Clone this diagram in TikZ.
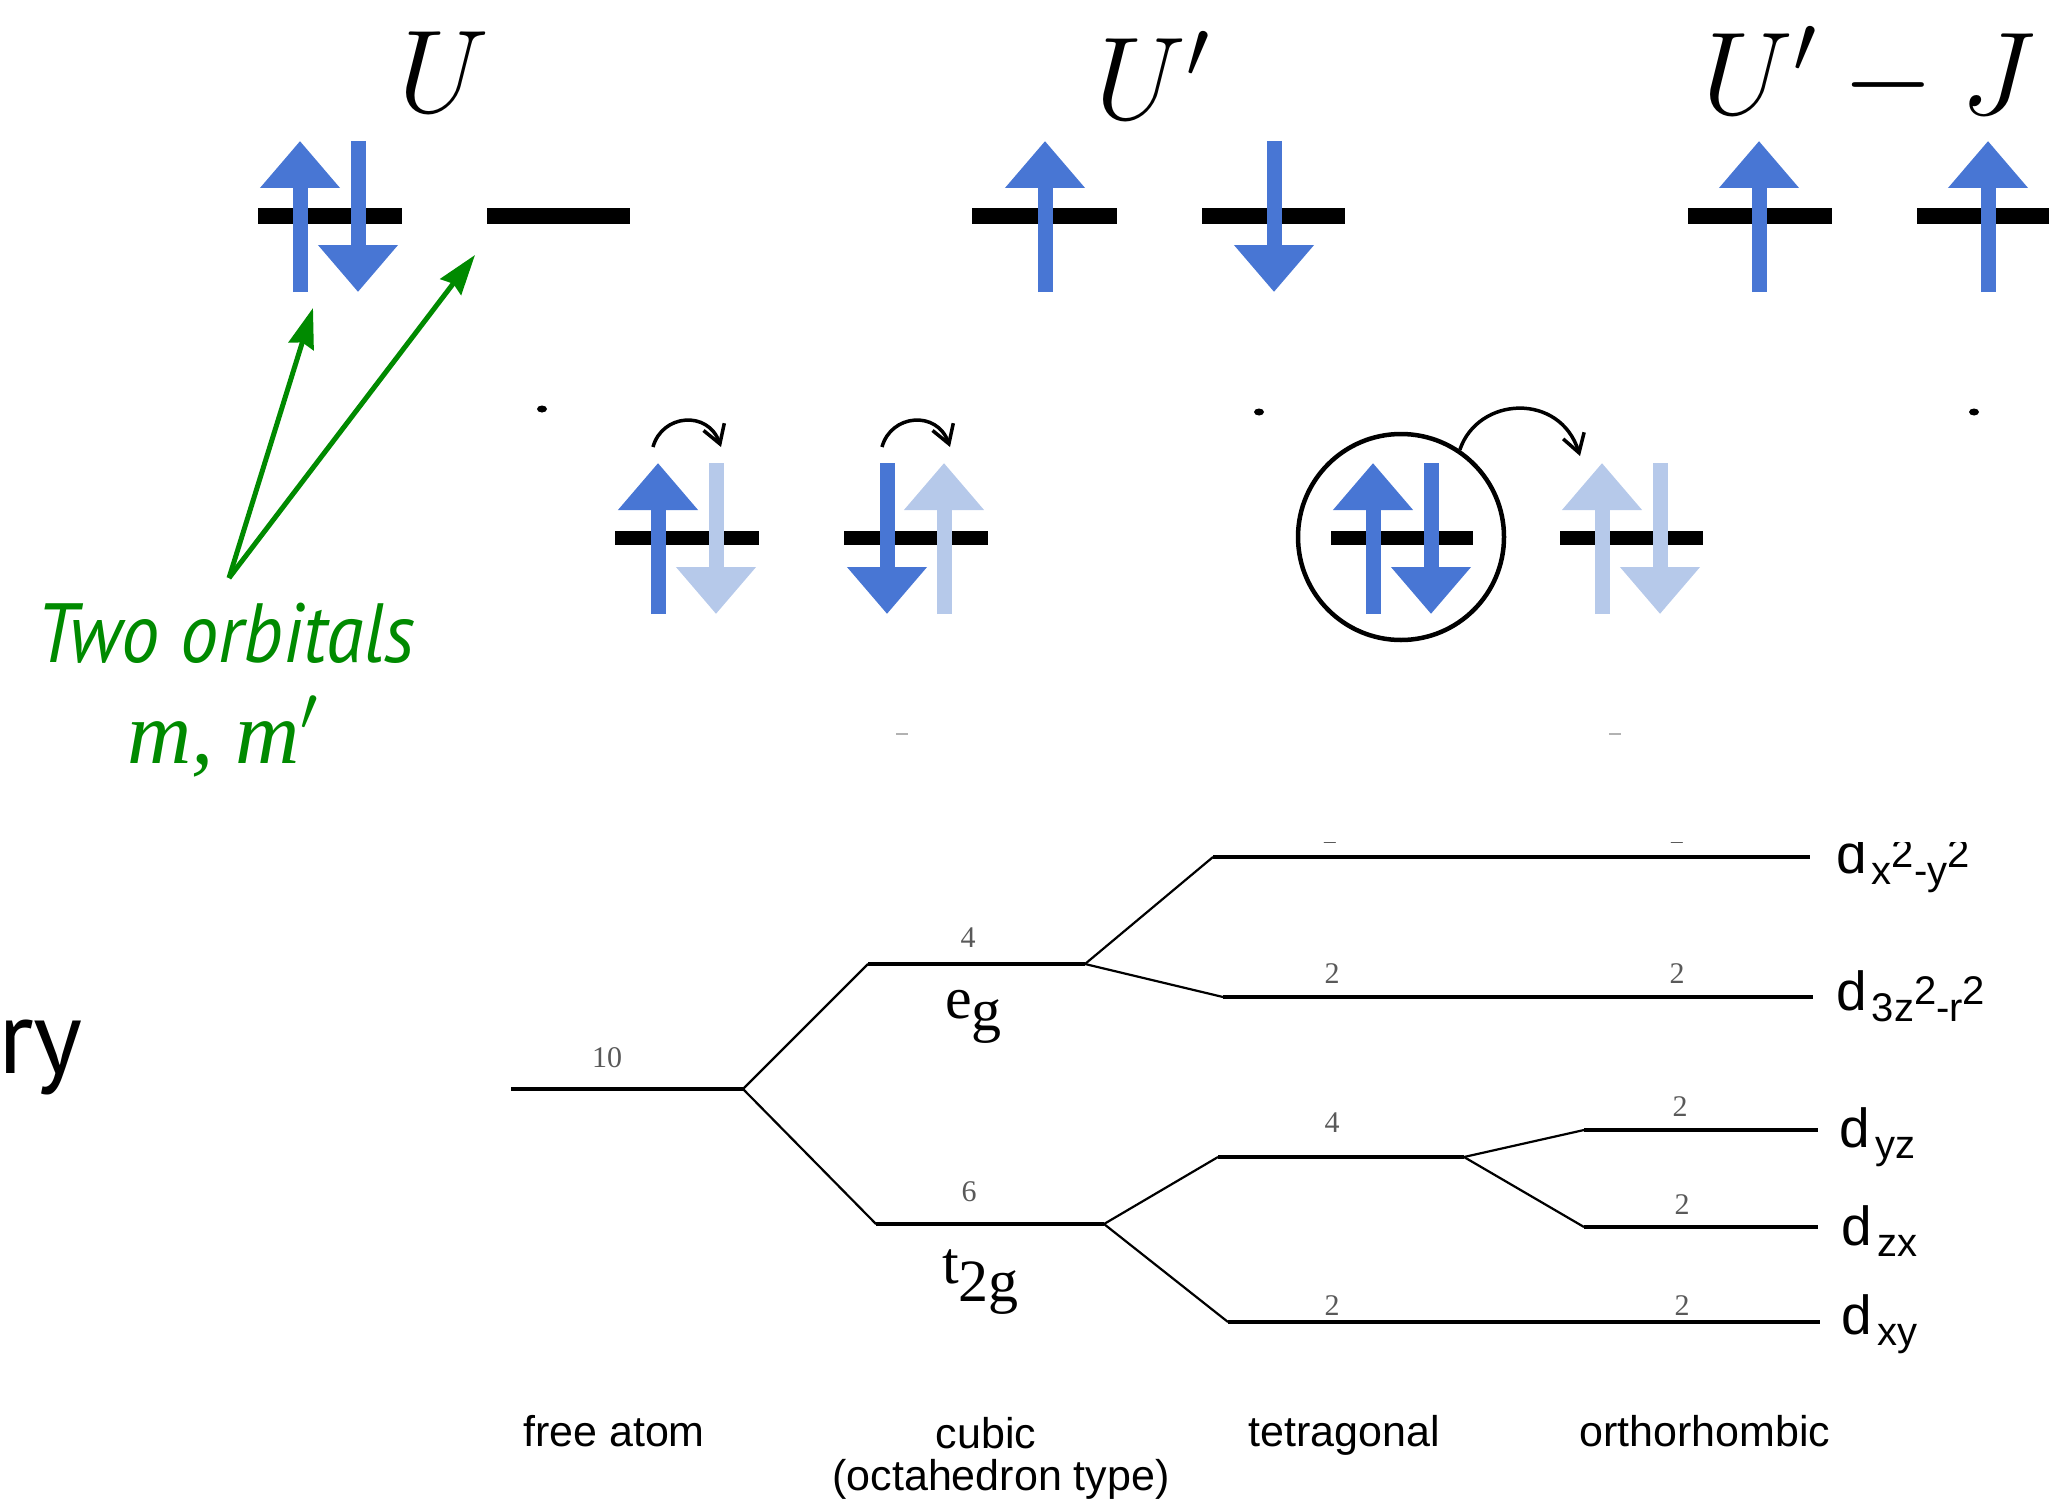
\RequirePackage{fix-cm}
\documentclass[tikz,border=0pt]{standalone}
\usepackage{fontspec}
\usetikzlibrary{arrows.meta}
\newfontfamily\helv{Liberation Sans}
\newfontfamily\tms{Liberation Serif}
\newfontfamily\gill{PT Sans}
\definecolor{spinblue}{RGB}{72,118,212}
\definecolor{spinlight}{RGB}{182,201,234}
\definecolor{grn}{RGB}{0,138,0}
\newcommand\spinup[3]{\draw[spin,#3] (#1,#2+76) -- (#1,#2-75);}
\newcommand\spindn[3]{\draw[spin,#3] (#1,#2-75) -- (#1,#2+76);}
\newcommand\dsub[1]{\raisebox{-11pt}{\fontsize{40}{40}\helv #1}}
\newcommand\dsup[1]{\raisebox{6pt}{\fontsize{40}{40}\helv #1}}
\begin{document}
\begin{tikzpicture}[x=1pt,y=-1pt,
  spin/.style={line width=15pt,-{Triangle[length=47pt,width=77pt]}},
  dark/.style={spinblue}, light/.style={spinlight},
  lvltop/.style={line width=16pt},
  lvllow/.style={line width=14pt},
  hop/.style={line width=3.5pt,-{Straight Barb[length=18pt,width=22pt]}},
  ptr/.style={grn,line width=5pt,-{Stealth[length=40pt,width=26pt,inset=4pt]}},
  lev/.style={line width=3.5pt},
  br/.style={line width=2.2pt},
  num/.style={font=\fontsize{30}{30}\tms, text=black!65, inner sep=0},
  lab/.style={font=\fontsize{43}{43}\helv, inner sep=0, anchor=base},
  dl/.style={font=\fontsize{55}{55}\helv, inner sep=0, anchor=base west},
  mathlab/.style={font=\fontsize{118}{118}\selectfont, inner sep=0, anchor=base west},
]
\useasboundingbox (0,0) rectangle (2049,1498);
\clip (0,0) rectangle (2049,1498);

% ---------- top row: U, U', U'-J ----------
\node[mathlab] (lU) at (398,113) {$U$};
\node[mathlab] (lUp) at (1095,120) {$U'$};
\node[mathlab] (lUJ) at (1702,115) {$U'-J$};

\draw[lvltop] (258,216) -- (402,216);
\draw[lvltop] (487,216) -- (630,216);
\draw[lvltop] (972,216) -- (1117,216);
\draw[lvltop] (1202,216) -- (1345,216);
\draw[lvltop] (1688,216) -- (1832,216);
\draw[lvltop] (1917,216) -- (2061,216);

\spinup{300}{216}{dark}
\spindn{358}{216}{dark}
\spinup{1045}{216}{dark}
\spindn{1274}{216}{dark}
\spinup{1759}{216}{dark}
\spinup{1988}{216}{dark}

% ---------- second row: hopping ----------
\draw[lvllow] (615,538) -- (759,538);
\draw[lvllow] (844,538) -- (988,538);
\draw[lvllow] (1331,538) -- (1473,538);
\draw[lvllow] (1560,538) -- (1703,538);

\spinup{658}{538}{dark}
\spindn{716}{538}{light}
\spindn{887}{538}{dark}
\spinup{944}{538}{light}
\spinup{1373}{538}{dark}
\spindn{1431}{538}{dark}
\spinup{1602}{538}{light}
\spindn{1660}{538}{light}

\node[circle, draw, line width=4.5pt, minimum size=206pt, inner sep=0] (circ) at (1401,537) {};

\coordinate (h1s) at (653,447);
\coordinate (h1e) at (721,447);
\coordinate (h2s) at (882,447);
\coordinate (h2e) at (950,447);
\coordinate (h3e) at (1580,456);
\draw[hop] (h1s) .. controls (662,414) and (708,410) .. (h1e);
\draw[hop] (h2s) .. controls (891,414) and (937,410) .. (h2e);
\draw[hop] (circ.56) .. controls (1478,396) and (1560,392) .. (h3e);

% stray marks
\fill (542,409) ellipse [x radius=5pt, y radius=3.5pt];
\fill (1259,412) ellipse [x radius=5pt, y radius=3.5pt];
\fill (1974,412) ellipse [x radius=5pt, y radius=3.5pt];
\draw[gray!60, line width=1.5pt] (896,734) -- (908,734);
\draw[gray!60, line width=1.5pt] (1609,734) -- (1621,734);

% ---------- green annotation ----------
\node[anchor=base west, inner sep=0, text=grn, font=\fontsize{84}{84}\gill\itshape] (two) at (36,662) {\scalebox{0.91}[1]{Two orbitals}};
\node[anchor=base west, inner sep=0, text=grn, font=\fontsize{89}{89}\tms\itshape] (mm) at (127,763) {m, m$'$};
\coordinate (gt) at (229,578);
\coordinate (gtip1) at (313,308);
\coordinate (gtip2) at (475,255);
\draw[ptr] (gt) -- (gtip1);
\draw[ptr] (gt) -- (gtip2);

% ---------- cut-off word ----------
\node[anchor=base east, inner sep=0, font=\fontsize{105}{105}\gill] (ry) at (83,1073) {ry};

% ---------- crystal-field diagram ----------
\begin{scope}
\clip (380,842) rectangle (2049,1498);
\coordinate (fa1) at (511,1089);  \coordinate (fa2) at (743,1089);
\coordinate (eg1) at (868,964);   \coordinate (eg2) at (1085,964);
\coordinate (tg1) at (876,1224);  \coordinate (tg2) at (1104,1224);
\coordinate (x21) at (1213,857);  \coordinate (x22) at (1810,857);
\coordinate (z21) at (1223,997);  \coordinate (z22) at (1813,997);
\coordinate (te1) at (1218,1157); \coordinate (te2) at (1464,1157);
\coordinate (yz1) at (1584,1130); \coordinate (yz2) at (1818,1130);
\coordinate (zx1) at (1584,1227); \coordinate (zx2) at (1818,1227);
\coordinate (xy1) at (1228,1322); \coordinate (xy2) at (1820,1322);

\draw[lev] (fa1) -- (fa2);
\draw[lev] (eg1) -- (eg2);
\draw[lev] (tg1) -- (tg2);
\draw[lev] (x21) -- (x22);
\draw[lev] (z21) -- (z22);
\draw[lev] (te1) -- (te2);
\draw[lev] (yz1) -- (yz2);
\draw[lev] (zx1) -- (zx2);
\draw[lev] (xy1) -- (xy2);

\draw[br] (fa2) -- (eg1);
\draw[br] (fa2) -- (tg1);
\draw[br] (eg2) -- (x21);
\draw[br] (eg2) -- (z21);
\draw[br] (tg2) -- (te1);
\draw[br] (tg2) -- (xy1);
\draw[br] (te2) -- (yz1);
\draw[br] (te2) -- (zx1);

\node[num] (n10) at (607,1058) {10};
\node[num] (n4a) at (968,938) {4};
\node[num] (n6) at (969,1192) {6};
\node[num] (n2a) at (1330,834) {2};
\node[num] (n2b) at (1677,834) {2};
\node[num] (n2c) at (1332,974) {2};
\node[num] (n2d) at (1677,974) {2};
\node[num] (n4b) at (1332,1123) {4};
\node[num] (n2e) at (1680,1107) {2};
\node[num] (n2f) at (1682,1205) {2};
\node[num] (n2g) at (1332,1306) {2};
\node[num] (n2h) at (1682,1306) {2};

\node[anchor=base west, inner sep=0, font=\fontsize{60}{60}\tms] (eg) at (945,1018) {e\raisebox{-12pt}{g}};
\node[anchor=base west, inner sep=0, font=\fontsize{60}{60}\tms] (t2g) at (942,1283) {t\raisebox{-18pt}{2g}};

\node[dl] (dx2) at (1836,873) {d\hspace{5pt}\dsub{x}\dsup{2}\dsub{-y}\dsup{2}};
\node[dl] (dz2) at (1836,1010) {d\hspace{5pt}\dsub{3z}\dsup{2}\dsub{-r}\dsup{2}};
\node[dl] (dyz) at (1839,1147) {d\hspace{6pt}\dsub{yz}};
\node[dl] (dzx) at (1841,1245) {d\hspace{6pt}\dsub{zx}};
\node[dl] (dxy) at (1841,1334) {d\hspace{6pt}\dsub{xy}};

\node[lab] (lfa) at (614,1446) {free atom};
\node[lab] (lcu) at (986,1448) {cubic};
\node[lab] (loc) at (1001,1490) {(octahedron type)};
\node[lab] (lte) at (1344,1446) {tetragonal};
\node[lab] (lor) at (1705,1446) {orthorhombic};
\end{scope}
\end{tikzpicture}
\end{document}
